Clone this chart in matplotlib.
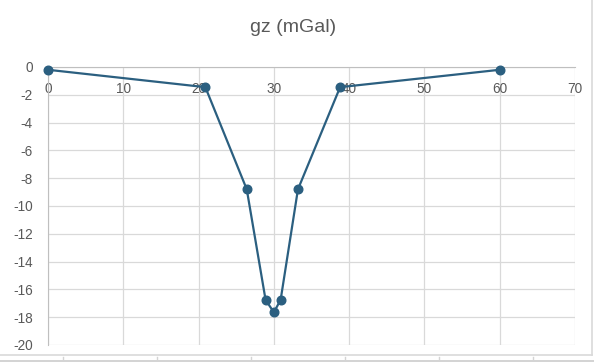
import numpy as np
import matplotlib.pyplot as plt
from matplotlib.lines import Line2D
from matplotlib.patches import Rectangle

# Data
distance = [0, 20.9, 26.4, 28.9, 30.0, 30.9, 33.2, 38.8, 60]
gz = [-0.2, -1.45, -8.8, -16.75, -17.65, -16.75, -8.8, -1.45, -0.2]

x_ticks = [0, 10, 20, 30, 40, 50, 60, 70]
y_ticks = [0, -2, -4, -6, -8, -10, -12, -14, -16, -18, -20]

plt.rcParams['font.family'] = ['Liberation Sans', 'DejaVu Sans']

W, H = 594, 362
fig = plt.figure(figsize=(W / 100, H / 100), dpi=100)
ax = fig.add_axes([48 / W, 1 - 345 / H, (575 - 48) / W, (345 - 67) / H])

grid_col = '#d9d9d9'
axis_col = '#bfbfbf'
text_col = '#595959'
line_col = '#2b5f80'

ax.plot(distance, gz, color=line_col, lw=1.6, marker='o', ms=6.2,
        zorder=5, clip_on=False)

ax.set_xlim(0, 70)
ax.set_ylim(-20, 0)
ax.set_xticks(x_ticks)
ax.set_yticks(y_ticks)
ax.set_xticklabels([str(v) for v in x_ticks])
ax.set_yticklabels([str(v) for v in y_ticks])

ax.grid(True, color=grid_col, lw=0.9, zorder=0)
ax.set_axisbelow(True)

# x axis crosses at y = 0, Excel style
ax.spines['bottom'].set_position(('data', 0))
ax.spines['bottom'].set_color(axis_col)
ax.spines['left'].set_color(axis_col)
ax.spines['top'].set_visible(False)
ax.spines['right'].set_visible(False)
ax.tick_params(axis='x', length=0, pad=11, labelsize=9.8, labelcolor=text_col)
ax.tick_params(axis='y', length=0, pad=11, labelsize=9.8, labelcolor=text_col)

fig.text(293 / W, 1 - 27 / H, 'gz (mGal)', ha='center', va='center',
         fontsize=14, color=text_col)

# chart border and spreadsheet strip
fig.add_artist(Line2D([592 / W, 592 / W], [1 - 355 / H, 1], color=grid_col, lw=1.2))
fig.add_artist(Line2D([0, 592 / W], [1 - 355 / H, 1 - 355 / H], color=grid_col, lw=1.2))
fig.add_artist(Rectangle((0, 0), 1, 2.5 / H, transform=fig.transFigure,
                         color='#d4d4d4', lw=0))
for px in [63, 157, 251, 345, 439, 533]:
    fig.add_artist(Line2D([px / W, px / W], [0, 5 / H], color='#d4d4d4', lw=1))

fig.savefig('out.png', dpi=100)
